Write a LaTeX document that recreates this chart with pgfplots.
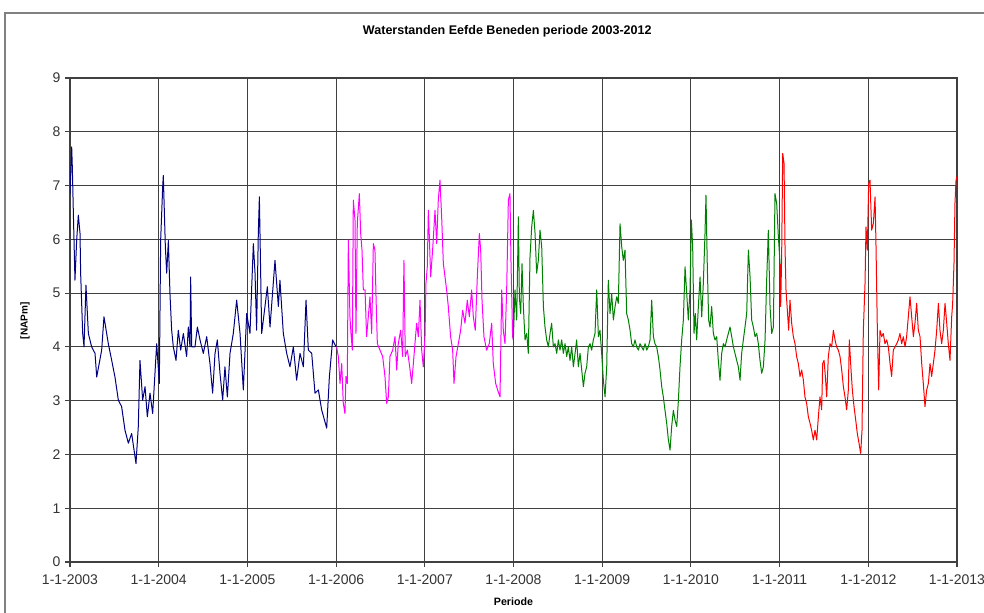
\documentclass[border=0pt]{standalone}
\usepackage{fontspec}
\setmainfont{Liberation Sans}
\usepackage{pgfplots}
\pgfplotsset{compat=1.18}
\definecolor{navyc}{RGB}{0,0,128}
\definecolor{magc}{RGB}{255,0,255}
\definecolor{greenc}{RGB}{0,128,0}
\definecolor{redc}{RGB}{255,0,0}
\begin{document}
\begin{tikzpicture}
\useasboundingbox (0pt,0pt) rectangle (738pt,459pt);
\draw[black!50, line width=1.1pt] (3.75pt,-15pt) -- (3.75pt,449.25pt) -- (750pt,449.25pt);
\begin{axis}[
  at={(52.5pt,37.5pt)}, anchor=south west,
  scale only axis, width=665.25pt, height=363pt,
  xmin=0, xmax=10, ymin=0, ymax=9,
  xtick={0,1,2,3,4,5,6,7,8,9,10},
  xticklabels={1-1-2003,1-1-2004,1-1-2005,1-1-2006,1-1-2007,1-1-2008,1-1-2009,1-1-2010,1-1-2011,1-1-2012,1-1-2013},
  ytick={0,1,2,3,4,5,6,7,8,9},
  xtick pos=left, ytick pos=left,
  grid=major, major grid style={black!75, line width=0.8pt},
  axis line style={black!75, line width=0.9pt},
  tick style={black!75, line width=0.8pt},
  tick align=outside, major tick length=3.75pt,
  tick label style={font=\fontsize{10.5}{12}\selectfont, text=black!80},
  xticklabel style={yshift=-2pt},
  /pgf/number format/assume math mode=true,
  title={Waterstanden Eefde Beneden periode 2003-2012},
  title style={at={(axis description cs:0.493,1.0806)}, anchor=center, font=\bfseries\fontsize{9.4}{11}\selectfont},
  xlabel={Periode},
  xlabel style={at={(axis description cs:0.5,-0.0826)}, anchor=center, font=\bfseries\fontsize{8}{9}\selectfont},
  ylabel={{[NAPm]}},
  ylabel style={at={(axis description cs:-0.0507,0.498)}, anchor=center, font=\bfseries\fontsize{7.5}{9}\selectfont},
  every axis plot/.append style={line width=0.75pt, line join=round},
  clip=true,
]
\addplot[navyc] coordinates {
(0,6.85)(0.019,7.72)(0.026,7.35)(0.038,6.48)(0.056,5.24)(0.075,5.98)(0.094,6.45)(0.113,6.11)(0.120,5.37)(0.143,4.25)(0.158,4.00)(0.180,5.15)(0.207,4.25)(0.244,4.00)(0.282,3.88)(0.301,3.44)(0.357,3.94)(0.383,4.56)(0.432,4.06)(0.470,3.75)(0.507,3.44)(0.545,3.01)(0.582,2.89)(0.620,2.45)(0.658,2.21)(0.695,2.39)(0.744,1.83)(0.770,2.52)(0.789,3.75)(0.819,3.01)(0.846,3.26)(0.872,2.70)(0.902,3.14)(0.932,2.76)(0.958,3.51)(0.977,4.06)(1.007,3.32)(1.022,5.98)(1.045,6.98)(1.052,7.19)(1.075,5.86)(1.090,5.37)(1.109,5.98)(1.127,4.99)(1.146,4.31)(1.165,4.00)(1.195,3.75)(1.221,4.31)(1.248,3.94)(1.278,4.25)(1.315,3.82)(1.334,4.37)(1.353,4.00)(1.360,5.30)(1.372,4.00)(1.409,4.00)(1.436,4.37)(1.466,4.13)(1.503,3.88)(1.541,4.19)(1.578,3.69)(1.608,3.14)(1.635,3.88)(1.661,4.13)(1.691,3.51)(1.721,3.01)(1.747,3.63)(1.774,3.07)(1.804,3.88)(1.841,4.25)(1.879,4.87)(1.917,4.25)(1.954,3.20)(1.992,4.62)(2.029,4.25)(2.067,5.92)(2.086,5.37)(2.104,4.31)(2.123,6.11)(2.135,6.79)(2.161,4.25)(2.198,4.75)(2.225,5.12)(2.255,4.37)(2.311,5.61)(2.349,4.75)(2.367,5.24)(2.405,4.25)(2.443,3.88)(2.480,3.63)(2.518,4.00)(2.555,3.38)(2.593,3.88)(2.631,3.63)(2.661,4.87)(2.687,3.94)(2.725,3.88)(2.762,3.14)(2.800,3.20)(2.837,2.83)(2.894,2.49)(2.924,3.44)(2.961,4.13)(2.999,4.00)
};
\addplot[magc] coordinates {
(3.006,4.00)(3.025,3.82)(3.044,3.32)(3.063,3.69)(3.081,2.95)(3.100,2.76)(3.111,3.45)(3.126,3.32)(3.138,5.99)(3.156,4.56)(3.168,4.25)(3.183,3.94)(3.194,6.73)(3.213,6.36)(3.224,4.25)(3.239,6.30)(3.262,6.85)(3.277,6.11)(3.292,5.80)(3.307,5.06)(3.326,5.06)(3.344,4.19)(3.363,4.56)(3.382,4.93)(3.401,4.25)(3.420,5.92)(3.438,5.80)(3.450,4.93)(3.465,4.06)(3.495,3.94)(3.525,3.82)(3.551,3.45)(3.570,2.95)(3.589,3.07)(3.607,3.82)(3.638,3.94)(3.664,4.19)(3.683,3.57)(3.701,4.06)(3.728,4.31)(3.750,3.82)(3.765,5.61)(3.780,3.82)(3.803,3.94)(3.825,3.69)(3.852,3.32)(3.871,3.69)(3.889,4.06)(3.908,4.44)(3.927,4.19)(3.946,4.87)(3.965,3.94)(3.983,3.63)(4.002,4.19)(4.013,5.18)(4.028,5.49)(4.040,6.54)(4.051,6.05)(4.066,5.30)(4.088,5.80)(4.115,6.54)(4.134,5.92)(4.152,6.73)(4.171,7.10)(4.190,6.42)(4.209,5.55)(4.228,5.30)(4.246,5.06)(4.265,4.75)(4.291,4.19)(4.314,3.94)(4.329,3.32)(4.352,3.82)(4.378,4.06)(4.404,4.31)(4.427,4.68)(4.453,4.44)(4.479,4.87)(4.502,4.56)(4.528,5.06)(4.547,4.56)(4.569,4.31)(4.592,5.30)(4.615,6.11)(4.630,5.80)(4.645,4.87)(4.667,4.19)(4.697,3.94)(4.727,4.06)(4.754,4.44)(4.772,3.69)(4.799,3.32)(4.821,3.20)(4.848,3.07)(4.867,5.06)(4.885,4.31)(4.904,4.06)(4.923,5.06)(4.942,6.73)(4.960,6.85)(4.972,5.55)(4.990,4.19)(4.998,4.13)
};
\addplot[greenc] coordinates {
(4.998,4.13)(5.017,5.06)(5.036,4.50)(5.055,6.42)(5.066,4.93)(5.081,4.62)(5.096,5.55)(5.111,4.75)(5.130,4.13)(5.149,4.25)(5.167,3.88)(5.186,5.67)(5.205,6.23)(5.224,6.54)(5.243,6.11)(5.261,5.37)(5.280,5.61)(5.299,6.17)(5.318,5.86)(5.337,4.75)(5.355,4.37)(5.374,4.13)(5.393,4.00)(5.412,4.25)(5.430,4.44)(5.449,4.00)(5.468,4.06)(5.487,3.88)(5.506,4.13)(5.524,3.94)(5.543,4.13)(5.562,3.88)(5.581,4.06)(5.600,3.82)(5.618,4.00)(5.637,3.75)(5.656,4.00)(5.675,3.63)(5.694,3.88)(5.712,4.13)(5.731,3.63)(5.750,3.88)(5.769,3.57)(5.788,3.26)(5.806,3.51)(5.825,3.63)(5.844,4.00)(5.863,4.06)(5.881,3.94)(5.900,4.13)(5.919,4.25)(5.938,5.06)(5.957,4.19)(5.975,4.31)(5.994,3.88)(6.013,3.38)(6.032,3.07)(6.051,3.63)(6.069,5.24)(6.088,4.62)(6.107,4.99)(6.126,4.50)(6.145,4.75)(6.163,4.93)(6.182,4.81)(6.201,6.29)(6.220,5.86)(6.238,5.61)(6.257,5.80)(6.276,4.62)(6.295,4.50)(6.314,4.31)(6.332,4.06)(6.351,4.00)(6.370,4.13)(6.389,4.00)(6.408,3.94)(6.426,4.06)(6.445,4.00)(6.464,3.94)(6.483,4.06)(6.502,3.94)(6.520,4.00)(6.539,4.13)(6.558,4.87)(6.577,4.19)(6.595,4.06)(6.614,4.00)(6.633,3.82)(6.652,3.57)(6.671,3.26)(6.689,3.07)(6.708,2.82)(6.727,2.58)(6.746,2.27)(6.765,2.08)(6.783,2.52)(6.802,2.82)(6.821,2.64)(6.840,2.52)(6.859,3.01)(6.877,3.63)(6.896,4.13)(6.915,4.50)(6.934,5.49)(6.953,4.99)(6.971,4.50)(6.990,5.06)(7.005,6.36)(7.020,5.86)(7.035,4.25)(7.050,4.62)(7.065,4.13)(7.084,4.75)(7.103,5.30)(7.122,4.56)(7.140,5.18)(7.159,6.11)(7.170,6.82)(7.185,5.49)(7.200,4.50)(7.215,4.37)(7.234,4.75)(7.253,4.25)(7.272,4.13)(7.291,4.19)(7.309,3.75)(7.328,3.38)(7.347,3.88)(7.366,4.06)(7.385,4.00)(7.403,4.13)(7.422,4.25)(7.441,4.37)(7.460,4.19)(7.479,4.00)(7.497,3.88)(7.516,3.75)(7.535,3.63)(7.554,3.38)(7.572,3.88)(7.591,4.13)(7.610,4.37)(7.629,4.62)(7.648,5.80)(7.667,5.30)(7.685,4.50)(7.704,4.37)(7.723,4.19)(7.742,4.25)(7.760,4.06)(7.779,3.75)(7.798,3.51)(7.817,3.63)(7.836,4.13)(7.854,5.24)(7.873,6.17)(7.892,4.75)(7.911,4.25)(7.930,4.37)(7.948,6.85)(7.967,6.67)(7.986,6.05)(8.005,5.55)
};
\addplot[redc] coordinates {
(8.005,5.55)(8.012,4.75)(8.023,5.68)(8.035,7.60)(8.050,7.41)(8.061,5.86)(8.072,5.06)(8.087,4.69)(8.102,4.31)(8.117,4.87)(8.136,4.44)(8.155,4.19)(8.174,4.06)(8.192,3.82)(8.211,3.69)(8.230,3.45)(8.249,3.57)(8.268,3.38)(8.286,3.07)(8.305,2.95)(8.324,2.70)(8.343,2.58)(8.361,2.45)(8.380,2.27)(8.399,2.45)(8.418,2.27)(8.437,2.70)(8.455,3.07)(8.474,2.83)(8.486,3.69)(8.501,3.75)(8.516,3.45)(8.531,3.07)(8.549,3.82)(8.568,4.06)(8.587,4.00)(8.606,4.31)(8.625,4.13)(8.643,4.00)(8.662,3.94)(8.681,3.82)(8.700,3.57)(8.719,3.26)(8.737,3.07)(8.756,2.83)(8.775,3.20)(8.786,4.13)(8.801,3.69)(8.820,3.20)(8.839,2.89)(8.858,2.64)(8.876,2.39)(8.895,2.21)(8.914,2.02)(8.929,2.45)(8.944,4.31)(8.963,5.18)(8.974,6.23)(8.989,5.80)(9.004,7.04)(9.019,7.10)(9.038,6.17)(9.057,6.30)(9.076,6.79)(9.087,5.86)(9.102,4.31)(9.117,3.20)(9.132,4.31)(9.151,4.19)(9.169,4.25)(9.188,4.06)(9.207,4.13)(9.226,4.00)(9.245,3.69)(9.263,3.45)(9.282,3.94)(9.301,4.00)(9.320,4.06)(9.339,4.13)(9.357,4.25)(9.376,4.06)(9.395,4.19)(9.414,4.00)(9.432,4.19)(9.451,4.56)(9.470,4.93)(9.489,4.56)(9.508,4.19)(9.526,4.44)(9.545,4.81)(9.564,4.31)(9.583,4.19)(9.602,3.69)(9.620,3.32)(9.639,2.89)(9.658,3.20)(9.677,3.32)(9.696,3.69)(9.714,3.45)(9.733,3.69)(9.752,3.94)(9.771,4.31)(9.790,4.81)(9.808,4.31)(9.827,4.06)(9.846,4.31)(9.865,4.81)(9.884,4.44)(9.902,4.06)(9.921,3.75)(9.940,4.56)(9.951,4.81)(9.966,5.55)(9.977,6.67)(9.989,7.10)(10.0,7.17)
};
\end{axis}
\end{tikzpicture}
\end{document}
